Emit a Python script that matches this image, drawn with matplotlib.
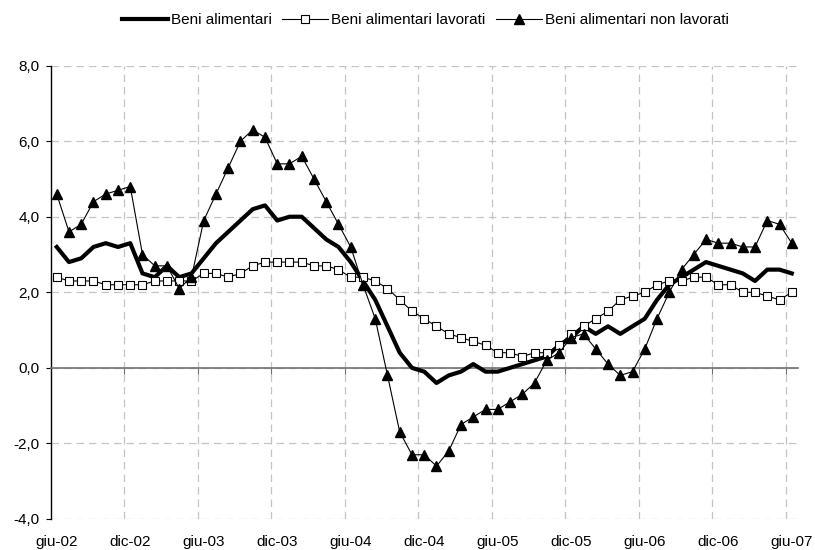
import numpy as np
import matplotlib.pyplot as plt
from matplotlib.ticker import FuncFormatter, FixedLocator

plt.rcParams['font.family'] = ['Liberation Sans', 'DejaVu Sans']

# etichette dell'asse dei tempi (una ogni sei mesi, giu-02 .. giu-07)
mesi = ['giu-02', 'dic-02', 'giu-03', 'dic-03', 'giu-04', 'dic-04',
        'giu-05', 'dic-05', 'giu-06', 'dic-06', 'giu-07']

# variazioni tendenziali mensili (%)
alimentari = [3.2, 2.8, 2.9, 3.2, 3.3, 3.2, 3.3, 2.5, 2.4, 2.7, 2.4, 2.5,
              2.9, 3.3, 3.6, 3.9, 4.2, 4.3, 3.9, 4.0, 4.0, 3.7, 3.4, 3.2,
              2.8, 2.3, 1.8, 1.1, 0.4, 0.0, -0.1, -0.4, -0.2, -0.1, 0.1, -0.1,
              -0.1, 0.0, 0.1, 0.2, 0.3, 0.6, 0.8, 1.1, 0.9, 1.1, 0.9, 1.1,
              1.3, 1.8, 2.2, 2.4, 2.6, 2.8, 2.7, 2.6, 2.5, 2.3, 2.6, 2.6,
              2.5]
lavorati = [2.4, 2.3, 2.3, 2.3, 2.2, 2.2, 2.2, 2.2, 2.3, 2.3, 2.3, 2.3,
            2.5, 2.5, 2.4, 2.5, 2.7, 2.8, 2.8, 2.8, 2.8, 2.7, 2.7, 2.6,
            2.4, 2.4, 2.3, 2.1, 1.8, 1.5, 1.3, 1.1, 0.9, 0.8, 0.7, 0.6,
            0.4, 0.4, 0.3, 0.4, 0.4, 0.6, 0.9, 1.1, 1.3, 1.5, 1.8, 1.9,
            2.0, 2.2, 2.3, 2.3, 2.4, 2.4, 2.2, 2.2, 2.0, 2.0, 1.9, 1.8,
            2.0]
non_lavorati = [4.6, 3.6, 3.8, 4.4, 4.6, 4.7, 4.8, 3.0, 2.7, 2.7, 2.1, 2.4,
                3.9, 4.6, 5.3, 6.0, 6.3, 6.1, 5.4, 5.4, 5.6, 5.0, 4.4, 3.8,
                3.2, 2.2, 1.3, -0.2, -1.7, -2.3, -2.3, -2.6, -2.2, -1.5, -1.3, -1.1,
                -1.1, -0.9, -0.7, -0.4, 0.2, 0.4, 0.8, 0.9, 0.5, 0.1, -0.2, -0.1,
                0.5, 1.3, 2.0, 2.6, 3.0, 3.4, 3.3, 3.3, 3.2, 3.2, 3.9, 3.8,
                3.3]

x = np.arange(len(alimentari))

fig = plt.figure(figsize=(8.15, 5.5), dpi=100)
ax = fig.add_axes([0.0621, 0.0564, 0.9169, 0.8243])

ax.plot(x, alimentari, color='black', lw=3.0, label='Beni alimentari',
        solid_joinstyle='round', zorder=3)
ax.plot(x, lavorati, color='black', lw=0.8, marker='s', ms=5.2,
        mfc='white', mec='black', mew=0.8, label='Beni alimentari lavorati', zorder=4)
ax.plot(x, non_lavorati, color='black', lw=0.8, marker='^', ms=6.5,
        mfc='black', mec='black', label='Beni alimentari non lavorati', zorder=5)

ax.set_xlim(-0.5, len(x) - 0.5)
ax.set_ylim(-4, 8)

# griglia tratteggiata
ax.yaxis.set_major_locator(FixedLocator(np.arange(-4, 9, 2)))
ax.yaxis.set_major_formatter(FuncFormatter(lambda v, p: f'{v:.1f}'.replace('.', ',')))
ax.xaxis.set_major_locator(FixedLocator(np.arange(0, len(x), 6)))
ax.xaxis.set_minor_locator(FixedLocator(np.arange(-0.5, len(x), 6)[1:]))
ax.grid(True, axis='y', which='major', color='#c4c4c4', ls=(0, (6, 4)), lw=0.9)
ax.grid(True, axis='x', which='minor', color='#c4c4c4', ls=(0, (6, 4)), lw=0.9)
ax.set_axisbelow(True)

for s in ['top', 'right']:
    ax.spines[s].set_visible(False)
ax.spines['left'].set_linewidth(1.0)
ax.spines['bottom'].set_position(('data', 0))
ax.spines['bottom'].set_color('#707070')
ax.spines['bottom'].set_linewidth(1.2)

ax.tick_params(axis='y', which='major', direction='out', length=3.5, width=0.8,
               labelsize=11, pad=4.5)
ax.tick_params(axis='x', which='major', length=0, labelbottom=False)
ax.tick_params(axis='x', which='minor', direction='out', length=4, width=0.8,
               color='#707070')

# etichette delle date in fondo al grafico
sec = ax.secondary_xaxis(0.0)
sec.set_xticks(np.arange(0, len(x), 6))
sec.set_xticklabels(mesi)
sec.tick_params(length=0, labelsize=11, pad=11.5)
sec.spines['bottom'].set_visible(False)

fig.legend(loc='center', bbox_to_anchor=(0.522, 0.9636), ncol=3,
           frameon=False, fontsize=11, handlelength=3.0, handletextpad=0.2,
           columnspacing=0.7)

fig.savefig('out.png', dpi=100)
